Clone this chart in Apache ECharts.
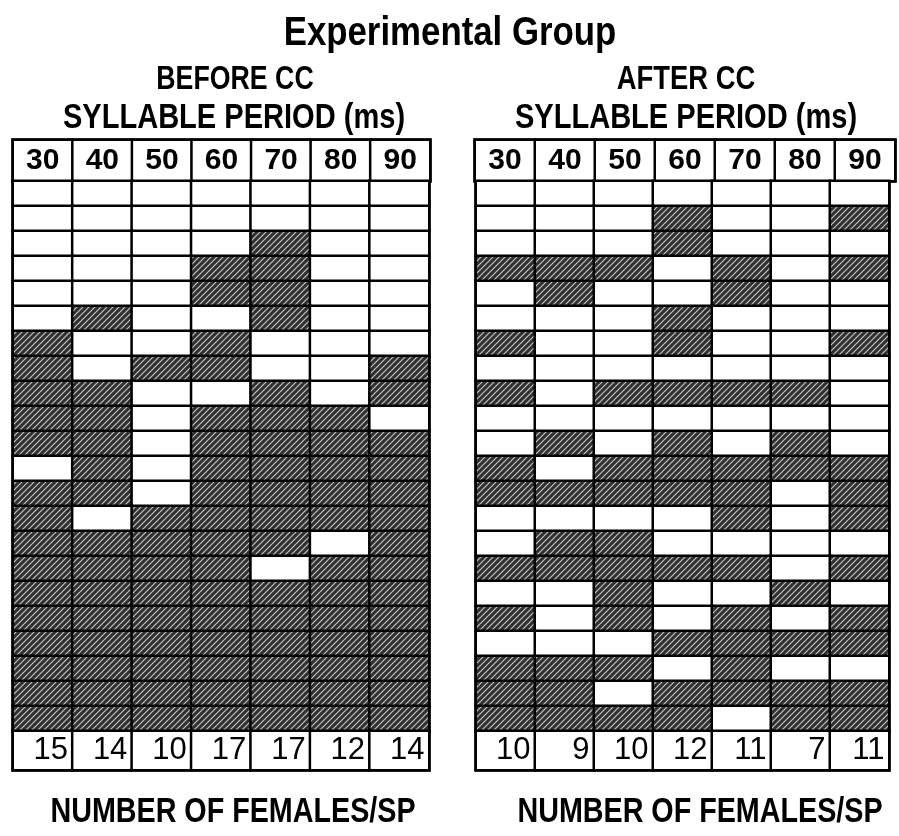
<!DOCTYPE html>
<html><head><meta charset="utf-8">
<script src="https://cdn.jsdelivr.net/npm/echarts@6/dist/echarts.min.js"></script>
<style>html,body{margin:0;padding:0;background:#fff}#c{width:899px;height:836px}</style>
</head><body><div id="c"></div>
<script>
// ---- data ----
const periods = ['30', '40', '50', '60', '70', '80', '90'];
const rowNames = ['1','2','3','4','5','6','7','8','9','10','11','12','13','14','15','16','17','18','19','20','21','22'];
// 1 = female responded (hatched cell), 0 = no response; rows top to bottom, cols 30..90 ms
const beforeRows = [
  [0,0,0,0,0,0,0],
  [0,0,0,0,0,0,0],
  [0,0,0,0,1,0,0],
  [0,0,0,1,1,0,0],
  [0,0,0,1,1,0,0],
  [0,1,0,0,1,0,0],
  [1,0,0,1,0,0,0],
  [1,0,1,1,0,0,1],
  [1,1,0,0,1,0,1],
  [1,1,0,1,1,1,0],
  [1,1,0,1,1,1,1],
  [0,1,0,1,1,1,1],
  [1,1,0,1,1,1,1],
  [1,0,1,1,1,1,1],
  [1,1,1,1,1,0,1],
  [1,1,1,1,0,1,1],
  [1,1,1,1,1,1,1],
  [1,1,1,1,1,1,1],
  [1,1,1,1,1,1,1],
  [1,1,1,1,1,1,1],
  [1,1,1,1,1,1,1],
  [1,1,1,1,1,1,1]
];
const afterRows = [
  [0,0,0,0,0,0,0],
  [0,0,0,1,0,0,1],
  [0,0,0,1,0,0,0],
  [1,1,1,0,1,0,1],
  [0,1,0,0,1,0,0],
  [0,0,0,1,0,0,0],
  [1,0,0,1,0,0,1],
  [0,0,0,0,0,0,0],
  [1,0,1,1,1,1,0],
  [0,0,0,0,0,0,0],
  [0,1,0,1,0,1,0],
  [1,0,1,1,1,1,1],
  [1,1,1,1,1,0,1],
  [0,0,0,0,1,0,1],
  [0,1,1,0,0,0,0],
  [1,1,1,1,1,0,1],
  [0,0,1,0,0,1,0],
  [1,0,1,0,1,0,1],
  [0,0,0,1,1,1,1],
  [1,1,1,0,1,0,0],
  [1,1,0,1,1,1,1],
  [1,1,1,1,0,1,1]
];
const beforeCounts = [15, 14, 10, 17, 17, 12, 14];
const afterCounts = [10, 9, 10, 12, 11, 7, 11];

// ---- styles ----
function makeHatch() {
  const s = 6, cv = document.createElement('canvas');
  cv.width = s; cv.height = s;
  const g = cv.getContext('2d');
  g.fillStyle = '#303030'; g.fillRect(0, 0, s, s);
  g.strokeStyle = '#c4c4c4'; g.lineWidth = 1.2;
  g.beginPath();
  g.moveTo(-1, s + 1); g.lineTo(s + 1, -1);
  g.moveTo(-2, 2); g.lineTo(2, -2);
  g.moveTo(s - 2, s + 2); g.lineTo(s + 2, s - 2);
  g.stroke();
  return cv;
}
const hatch = { image: makeHatch(), repeat: 'repeat' };
const FONT = '"Liberation Sans", Arial, sans-serif';
const cellBorder = { borderColor: '#000', borderWidth: 2.5 };

const panels = [
  { rows: beforeRows, counts: beforeCounts, left: 13, width: 416, hLeft: 13, hWidth: 417 },
  { rows: afterRows, counts: afterCounts, left: 476, width: 413, hLeft: 475, hWidth: 420 }
];
const HEAD_TOP = 140, HEAD_H = 41, DATA_TOP = 181, DATA_H = 550, COUNT_TOP = 731, COUNT_H = 39;

const grids = [], xAxes = [], yAxes = [], series = [];
panels.forEach((p, pi) => {
  const base = pi * 3;
  grids.push(
    { left: p.hLeft, width: p.hWidth, top: HEAD_TOP, height: HEAD_H, show: true, borderColor: '#000', borderWidth: 3.5, backgroundColor: '#fff' },
    { left: p.left, width: p.width, top: DATA_TOP, height: DATA_H, show: true, borderColor: '#000', borderWidth: 3.5, backgroundColor: '#fff' },
    { left: p.left, width: p.width, top: COUNT_TOP, height: COUNT_H, show: true, borderColor: '#000', borderWidth: 3.5, backgroundColor: '#fff' }
  );
  for (let k = 0; k < 3; k++) {
    xAxes.push({ type: 'category', gridIndex: base + k, data: periods, show: false });
  }
  yAxes.push(
    { type: 'category', gridIndex: base, data: ['period'], show: false },
    { type: 'category', gridIndex: base + 1, data: rowNames, inverse: true, show: false },
    { type: 'category', gridIndex: base + 2, data: ['count'], show: false }
  );
  // header row
  series.push({
    type: 'heatmap', xAxisIndex: base, yAxisIndex: base,
    data: periods.map((v, c) => [c, 0, Number(v)]),
    itemStyle: Object.assign({ color: '#fff' }, cellBorder),
    label: { show: true, formatter: q => periods[q.value[0]], color: '#000', fontFamily: FONT, fontWeight: 'bold', fontSize: 30 },
    emphasis: { disabled: true }, silent: true
  });
  // response cells
  const cells = [];
  p.rows.forEach((row, r) => row.forEach((v, c) => {
    cells.push({ value: [c, r, v], itemStyle: { color: v ? hatch : '#fff' } });
  }));
  series.push({
    type: 'heatmap', xAxisIndex: base + 1, yAxisIndex: base + 1,
    data: cells,
    itemStyle: cellBorder,
    emphasis: { disabled: true }, silent: true
  });
  // count row
  series.push({
    type: 'heatmap', xAxisIndex: base + 2, yAxisIndex: base + 2,
    data: p.counts.map((v, c) => [c, 0, v]),
    itemStyle: Object.assign({ color: '#fff' }, cellBorder),
    label: { show: true, position: 'insideRight', distance: 6, formatter: q => String(q.value[2]), color: '#000', fontFamily: FONT, fontSize: 31 },
    emphasis: { disabled: true }, silent: true
  });
});

function txt(text, x, y, size, sx) {
  return { type: 'text', x: x, y: y, scaleX: sx, silent: true,
    style: { text: text, fill: '#000', font: 'bold ' + size + 'px ' + FONT, textAlign: 'center', textVerticalAlign: 'middle' } };
}

const chart = echarts.init(document.getElementById('c'), null, { renderer: 'canvas' });
chart.setOption({
  animation: false,
  backgroundColor: '#fff',
  grid: grids,
  xAxis: xAxes,
  yAxis: yAxes,
  series: series,
  graphic: [
    txt('Experimental Group', 450, 34, 40, 0.87),
    txt('BEFORE CC', 235, 80, 33, 0.81),
    txt('SYLLABLE PERIOD (ms)', 234, 118, 35, 0.83),
    txt('AFTER CC', 686, 80, 33, 0.83),
    txt('SYLLABLE PERIOD (ms)', 686, 118, 35, 0.83),
    txt('NUMBER OF FEMALES/SP', 233, 812, 35, 0.82),
    txt('NUMBER OF FEMALES/SP', 700, 812, 35, 0.82)
  ]
});
</script></body></html>
